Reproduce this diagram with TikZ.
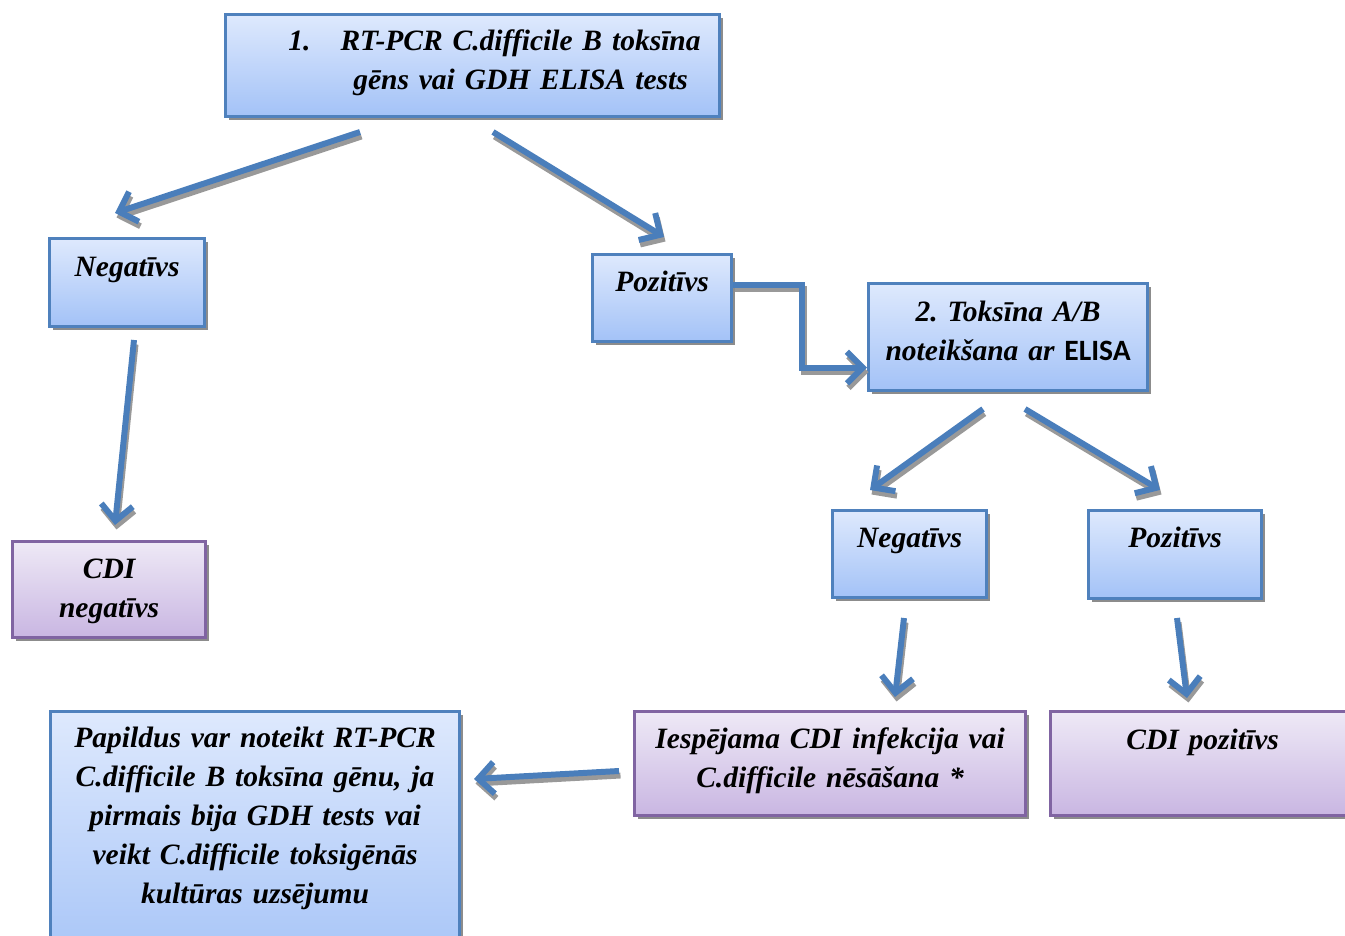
\documentclass[tikz,border=0pt]{standalone}
\usepackage{fontspec}
\setmainfont{Liberation Serif}
\newfontfamily\calibri{Carlito}
\usepackage{tikz}
\usetikzlibrary{arrows.meta}
\usetikzlibrary{shadows}
\definecolor{boxline}{HTML}{4F81BD}
\definecolor{blueTop}{HTML}{DEE9FD}
\definecolor{blueBot}{HTML}{A3C2F7}
\definecolor{lilaLine}{HTML}{8064A2}
\definecolor{lilaTop}{HTML}{EEE9F6}
\definecolor{lilaBot}{HTML}{C9B6E2}
\definecolor{arrBlue}{HTML}{4A7EBB}
\tikzset{box/.style={anchor=north west, inner sep=0pt, align=center, line width=0.9pt,
   font=\bfseries\itshape\frenchspacing\fontsize{8.4}{11.1}\selectfont,
   drop shadow={shadow xshift=0.035cm, shadow yshift=-0.035cm, fill=black!45, opacity=1}},
 bluebox/.style={box, draw=boxline, top color=blueTop, bottom color=blueBot},
 lilabox/.style={box, draw=lilaLine, top color=lilaTop, bottom color=lilaBot},
 flow/.style={draw=arrBlue, line width=1.7pt, -{Straight Barb[length=4.5pt,width=9pt]},
   preaction={draw=black!40, line width=1.7pt, transform canvas={shift={(0.015,-0.045)}}}},
 }

\begin{document}
\begin{tikzpicture}
        \clip (0,0) rectangle (13.45,-9.36);
        \node[bluebox, text width=4.94cm, text height=0.36cm, text depth=0.66cm] (test1) at (2.24,-0.13)
            {\hspace*{0.96cm}\llap{1.\hspace{0.3cm}}RT-PCR C.difficile B toksīna\\\hspace*{0.96cm}gēns vai GDH ELISA tests};
        \node[bluebox, text width=1.55cm, text height=0.38cm, text depth=0.50cm] (neg1) at (0.48,-2.37) {Negatīvs};
        \node[bluebox, text width=1.39cm, text height=0.37cm, text depth=0.50cm] (poz1) at (5.91,-2.53) {Pozitīvs};
        \node[bluebox, text width=2.79cm, text height=0.38cm, text depth=0.69cm] (test2) at (8.67,-2.82)
            {2. Toksīna A/B\\noteikšana ar {\calibri\upshape ELISA}};
        \node[bluebox, text width=1.54cm, text height=0.37cm, text depth=0.50cm] (neg2) at (8.31,-5.09) {Negatīvs};
        \node[bluebox, text width=1.73cm, text height=0.37cm, text depth=0.51cm] (poz2) at (10.87,-5.09) {Pozitīvs};
        \node[lilabox, text width=1.93cm, text height=0.37cm, text depth=0.59cm] (cdineg) at (0.11,-5.40) {CDI\\negatīvs};
        \node[bluebox, text width=4.09cm, text height=0.36cm, text depth=2.34cm] (extra) at (0.49,-7.10)
            {Papildus var noteikt RT-PCR\\C.difficile B toksīna gēnu, ja\\pirmais bija GDH tests vai\\veikt C.difficile toksigēnās\\kultūras uzsējumu};
        \node[lilabox, text width=3.91cm, text height=0.37cm, text depth=0.67cm] (maybe) at (6.33,-7.10)
            {Iespējama CDI infekcija vai\\C.difficile nēsāšana *};
        \node[lilabox, text width=3.04cm, text height=0.38cm, text depth=0.66cm] (cdipoz) at (10.49,-7.10) {CDI pozitīvs};
        \coordinate (a1s) at (3.60,-1.32);
        \coordinate (a1e) at (1.15,-2.13);
        \coordinate (a2s) at (4.93,-1.32);
        \coordinate (a2e) at (6.64,-2.37);
        \coordinate (a3s) at (1.34,-3.40);
        \coordinate (a3e) at (1.15,-5.25);
        \coordinate (a5s) at (9.83,-4.09);
        \coordinate (a5e) at (8.70,-4.90);
        \coordinate (a6s) at (10.25,-4.09);
        \coordinate (a6e) at (11.60,-4.90);
        \coordinate (a7s) at (9.04,-6.18);
        \coordinate (a7e) at (8.95,-6.97);
        \coordinate (a8s) at (11.77,-6.18);
        \coordinate (a8e) at (11.87,-6.98);
        \coordinate (a9s) at (6.19,-7.71);
        \coordinate (a9e) at (4.74,-7.79);
        \draw[flow] (a1s) -- (a1e);
        \draw[flow] (a2s) -- (a2e);
        \draw[flow] (a3s) -- (a3e);
        \draw[flow] ([yshift=0.135cm]poz1.east) -- ++(0.69,0) |- ([yshift=-0.305cm]test2.west);
        \draw[flow] (a5s) -- (a5e);
        \draw[flow] (a6s) -- (a6e);
        \draw[flow] (a7s) -- (a7e);
        \draw[flow] (a8s) -- (a8e);
        \draw[flow] (a9s) -- (a9e);
    \end{tikzpicture}
\end{document}
